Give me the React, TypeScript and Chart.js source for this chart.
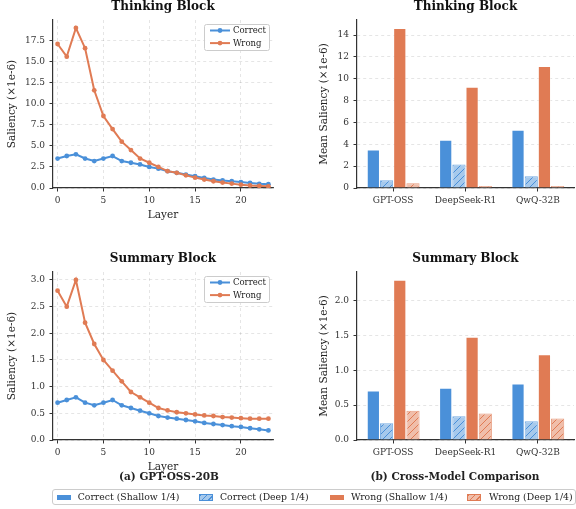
import React, { useEffect, useRef } from "react";
import { Chart, registerables } from "chart.js";
Chart.register(...registerables);

const FONT = "'DejaVu Serif', serif";
const BLUE = "#4A90D9";
const ORANGE = "#E07B54";
const BLUE_LIGHT = "#A6C9EC";
const ORANGE_LIGHT = "#F0BEAA";
const AXIS = "#333333";
const TEXT = "#222222";

// ---- data ----
const layers = [0, 1, 2, 3, 4, 5, 6, 7, 8, 9, 10, 11, 12, 13, 14, 15, 16, 17, 18, 19, 20, 21, 22, 23];
const thinkingCorrect = [3.5, 3.8, 4.0, 3.5, 3.2, 3.5, 3.8, 3.2, 3.0, 2.8, 2.5, 2.3, 2.0, 1.8, 1.6, 1.4, 1.2, 1.0, 0.9, 0.8, 0.7, 0.6, 0.5, 0.45];
const thinkingWrong = [17.1, 15.6, 19.0, 16.6, 11.6, 8.55, 7.0, 5.5, 4.5, 3.5, 3.0, 2.5, 2.0, 1.8, 1.5, 1.23, 1.0, 0.8, 0.64, 0.52, 0.4, 0.3, 0.25, 0.2];
const summaryCorrect = [0.7, 0.75, 0.8, 0.7, 0.65, 0.7, 0.75, 0.65, 0.6, 0.55, 0.5, 0.45, 0.42, 0.4, 0.375, 0.35, 0.32, 0.3, 0.28, 0.26, 0.245, 0.22, 0.2, 0.18];
const summaryWrong = [2.8, 2.5, 3.0, 2.2, 1.8, 1.5, 1.3, 1.1, 0.9, 0.8, 0.7, 0.6, 0.555, 0.52, 0.5, 0.48, 0.46, 0.45, 0.43, 0.42, 0.41, 0.4, 0.4, 0.4];

const models = ["GPT-OSS", "DeepSeek-R1", "QwQ-32B"];
const seriesLabels = ["Correct (Shallow 1/4)", "Correct (Deep 1/4)", "Wrong (Shallow 1/4)", "Wrong (Deep 1/4)"];
const thinkCorrectShallow = [3.53, 4.42, 5.34];
const thinkCorrectDeep = [0.71, 2.15, 1.07];
const thinkWrongShallow = [14.65, 9.27, 11.18];
const thinkWrongDeep = [0.43, 0.18, 0.18];
const sumCorrectShallow = [0.71, 0.75, 0.81];
const sumCorrectDeep = [0.24, 0.34, 0.27];
const sumWrongShallow = [2.3, 1.48, 1.23];
const sumWrongDeep = [0.42, 0.38, 0.31];

Chart.defaults.font.family = FONT;
Chart.defaults.color = TEXT;

function hatch(bg: string, fg: string) {
  const s = 7;
  const c = document.createElement("canvas");
  c.width = s;
  c.height = s;
  const x = c.getContext("2d")!;
  x.fillStyle = bg;
  x.fillRect(0, 0, s, s);
  x.strokeStyle = fg;
  x.lineWidth = 1;
  x.beginPath();
  x.moveTo(0, s);
  x.lineTo(s, 0);
  x.moveTo(-1, 1);
  x.lineTo(1, -1);
  x.moveTo(s - 1, s + 1);
  x.lineTo(s + 1, s - 1);
  x.stroke();
  return x.createPattern(c, "repeat");
}

const lineLegend = {
  id: "lineLegend",
  afterDraw(chart: any) {
    const { ctx, chartArea } = chart;
    const w = 65;
    const h = 26;
    const x = chartArea.right - 4 - w;
    const y = chartArea.top + 4;
    ctx.save();
    ctx.fillStyle = "rgba(255,255,255,0.85)";
    ctx.strokeStyle = "#cccccc";
    ctx.lineWidth = 1;
    ctx.beginPath();
    ctx.roundRect(x + 0.5, y + 0.5, w, h, 2);
    ctx.fill();
    ctx.stroke();
    chart.data.datasets.forEach((ds: any, i: number) => {
      const cy = y + 6.5 + i * 12.6;
      ctx.strokeStyle = ds.borderColor;
      ctx.lineWidth = 2;
      ctx.beginPath();
      ctx.moveTo(x + 6, cy);
      ctx.lineTo(x + 26, cy);
      ctx.stroke();
      ctx.fillStyle = ds.borderColor;
      ctx.beginPath();
      ctx.arc(x + 16, cy, 2.4, 0, Math.PI * 2);
      ctx.fill();
      ctx.fillStyle = TEXT;
      ctx.font = `8.5px ${FONT}`;
      ctx.textBaseline = "middle";
      ctx.textAlign = "left";
      ctx.fillText(ds.label, x + 29, cy + 0.5);
    });
    ctx.restore();
  },
};

function titleOpts(text: string) {
  return {
    display: true,
    text,
    fullSize: false,
    color: "#111",
    font: { family: FONT, size: 12, weight: "bold" as const, lineHeight: 1.1 },
    padding: { top: 0, bottom: 6.8 },
  };
}

function yAxis(max: number, step: number, digits: number, label: string, width: number, titlePad: number) {
  return {
    type: "linear" as const,
    min: 0,
    max,
    ticks: {
      stepSize: step,
      includeBounds: false,
      color: AXIS,
      padding: 4.5,
      font: { family: FONT, size: 9 },
      callback: (v: any) => Number(v).toFixed(digits),
    },
    grid: {
      color: "rgba(0,0,0,0.13)",
      lineWidth: 0.8,
      drawTicks: true,
      tickLength: 3.5,
      tickColor: AXIS,
      tickWidth: 1,
    },
    border: { display: true, color: AXIS, width: 1.2, dash: [3, 3] },
    title: {
      display: true,
      text: label,
      color: TEXT,
      font: { family: FONT, size: 10.5 },
      padding: { top: titlePad, bottom: 0 },
    },
    afterFit: (s: any) => {
      s.width = width;
    },
  };
}

function lineConfig(title: string, correct: number[], wrong: number[], yMax: number, yStep: number) {
  const mk = (label: string, vals: number[], color: string, order: number) => ({
    label,
    data: layers.map((l, i) => ({ x: l, y: vals[i] })),
    borderColor: color,
    backgroundColor: color,
    borderWidth: 2,
    pointRadius: 2.4,
    pointBorderWidth: 0,
    pointBackgroundColor: color,
    tension: 0,
    order,
  });
  return {
    type: "line",
    data: { datasets: [mk("Correct", correct, BLUE, 1), mk("Wrong", wrong, ORANGE, 0)] },
    options: {
      responsive: false,
      animation: false,
      devicePixelRatio: 1,
      layout: { padding: { left: 0, right: 7, top: 0, bottom: 0 } },
      plugins: { legend: { display: false }, tooltip: { enabled: false }, title: titleOpts(title) },
      scales: {
        x: {
          type: "linear",
          min: -0.5,
          max: 23.5,
          ticks: { stepSize: 5, includeBounds: false, color: AXIS, padding: 3.5, font: { family: FONT, size: 9 } },
          grid: { color: "rgba(0,0,0,0.13)", lineWidth: 0.8, drawTicks: true, tickLength: 3.5, tickColor: AXIS, tickWidth: 1 },
          border: { display: true, color: AXIS, width: 1.2, dash: [3, 3] },
          title: { display: true, text: "Layer", color: TEXT, font: { family: FONT, size: 10.5 }, padding: { top: 0, bottom: 0 } },
          afterFit: (s: any) => {
            s.height = 34;
          },
        },
        y: yAxis(yMax, yStep, 1, "Saliency (×1e-6)", 53, 6.2),
      },
    },
    plugins: [lineLegend],
  };
}

function barConfig(title: string, cs: number[], cd: number[], ws: number[], wd: number[], yMax: number, yStep: number, digits: number) {
  const common = { barPercentage: 1, categoryPercentage: 0.73 };
  return {
    type: "bar",
    data: {
      labels: models,
      datasets: [
        { label: seriesLabels[0], data: cs, backgroundColor: BLUE, borderColor: "rgba(255,255,255,0.45)", borderWidth: 1, ...common },
        { label: seriesLabels[1], data: cd, backgroundColor: hatch(BLUE_LIGHT, BLUE), borderColor: "rgba(74,144,217,0.75)", borderWidth: 1, ...common },
        { label: seriesLabels[2], data: ws, backgroundColor: ORANGE, borderColor: "rgba(255,255,255,0.45)", borderWidth: 1, ...common },
        { label: seriesLabels[3], data: wd, backgroundColor: hatch(ORANGE_LIGHT, ORANGE), borderColor: "rgba(224,123,84,0.75)", borderWidth: 1, ...common },
      ],
    },
    options: {
      responsive: false,
      animation: false,
      devicePixelRatio: 1,
      layout: { padding: { left: 0, right: 2, top: 0, bottom: 0 } },
      plugins: { legend: { display: false }, tooltip: { enabled: false }, title: titleOpts(title) },
      scales: {
        x: {
          type: "category",
          offset: true,
          ticks: { color: AXIS, padding: 3.5, font: { family: FONT, size: 9 } },
          grid: { drawOnChartArea: false, drawTicks: true, tickLength: 3.5, tickColor: AXIS, tickWidth: 1, offset: false },
          border: { display: true, color: AXIS, width: 1.2 },
          afterFit: (s: any) => {
            s.height = 34;
          },
        },
        y: yAxis(yMax, yStep, digits, "Mean Saliency (×1e-6)", 67, 28),
      },
    },
  };
}

function ChartBox({ left, top, width, height, make }: any) {
  const ref = useRef<HTMLCanvasElement>(null);
  useEffect(() => {
    const chart = new Chart(ref.current as HTMLCanvasElement, make());
    return () => chart.destroy();
  }, []);
  return (
    <canvas
      ref={ref}
      width={width}
      height={height}
      style={{ position: "absolute", left, top, width, height, display: "block" }}
    />
  );
}

const hatchCss = (light: string, dark: string) =>
  `repeating-linear-gradient(135deg, ${dark} 0px, ${dark} 1px, ${light} 1px, ${light} 4.5px)`;

export default function App() {
  const legendItems = [
    { sx: 57, tx: 77.7, solid: BLUE },
    { sx: 199, tx: 220, hatch: [BLUE_LIGHT, BLUE] },
    { sx: 330, tx: 351, solid: ORANGE },
    { sx: 467, tx: 489, hatch: [ORANGE_LIGHT, ORANGE] },
  ];
  return (
    <div
      style={{
        position: "fixed",
        left: 0,
        top: 0,
        width: 576,
        height: 509,
        background: "#fff",
        overflow: "hidden",
        fontFamily: FONT,
        color: TEXT,
      }}
    >
      <ChartBox left={0} top={0} width={280} height={222} make={() => lineConfig("Thinking Block", thinkingCorrect, thinkingWrong, 19.95, 2.5)} />
      <ChartBox left={0} top={252} width={280} height={222} make={() => lineConfig("Summary Block", summaryCorrect, summaryWrong, 3.15, 0.5)} />
      <ChartBox
        left={290}
        top={0}
        width={286}
        height={222}
        make={() => barConfig("Thinking Block", thinkCorrectShallow, thinkCorrectDeep, thinkWrongShallow, thinkWrongDeep, 15.38, 2, 0)}
      />
      <ChartBox
        left={290}
        top={252}
        width={286}
        height={222}
        make={() => barConfig("Summary Block", sumCorrectShallow, sumCorrectDeep, sumWrongShallow, sumWrongDeep, 2.41, 0.5, 1)}
      />
      <div style={{ position: "absolute", left: 69, width: 200, top: 469, textAlign: "center", fontWeight: "bold", fontSize: 10.5, lineHeight: "14px" }}>
        (a) GPT-OSS-20B
      </div>
      <div style={{ position: "absolute", left: 355, width: 200, top: 468.5, textAlign: "center", fontWeight: "bold", fontSize: 10.5, lineHeight: "14px" }}>
        (b) Cross-Model Comparison
      </div>
      <div
        style={{
          position: "absolute",
          left: 52,
          top: 489,
          width: 524,
          height: 16,
          boxSizing: "border-box",
          border: "1px solid #cccccc",
          borderRadius: 3,
          background: "#fff",
        }}
      />
      {legendItems.map((it, i) => (
        <React.Fragment key={i}>
          {it.solid ? (
            <div style={{ position: "absolute", left: it.sx, top: 494.5, width: 14, height: 5.5, background: it.solid }} />
          ) : (
            <div
              style={{
                position: "absolute",
                left: it.sx,
                top: 493.5,
                width: 14,
                height: 7,
                boxSizing: "border-box",
                border: `1px solid ${it.hatch![1]}`,
                background: hatchCss(it.hatch![0], it.hatch![1]),
              }}
            />
          )}
          <div style={{ position: "absolute", left: it.tx, top: 491, fontSize: 9.3, lineHeight: "12px", whiteSpace: "nowrap" }}>
            {seriesLabels[i]}
          </div>
        </React.Fragment>
      ))}
    </div>
  );
}
